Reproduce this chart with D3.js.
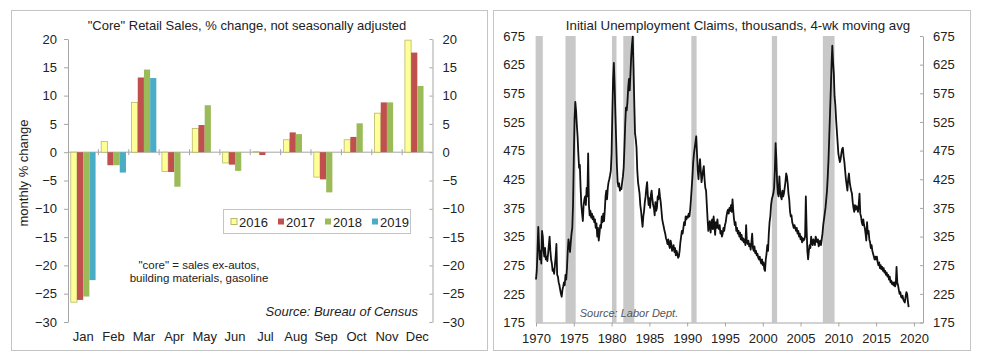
<!DOCTYPE html>
<html>
<head>
<meta charset="utf-8">
<script src="https://cdn.jsdelivr.net/npm/d3@7"></script>
<style>
    body { margin: 0; background: #fff; }
    svg { display: block; font-family: "Liberation Sans", Arial, sans-serif; }
    .axis path, .axis line { stroke: #a6a6a6; }
    .axis text { fill: #222; font-size: 13px; }
</style>
</head>
<body>
<script>

// left chart: "core" retail sales, % change by month
var months = ["Jan", "Feb", "Mar", "Apr", "May", "Jun", "Jul", "Aug", "Sep", "Oct", "Nov", "Dec"];
var years = ["2016", "2017", "2018", "2019"];
var sales2016 = [-26.5, 1.9, 8.8, -3.4, 4.2, -1.9, 0.1, 2.2, -4.4, 2.2, 6.9, 19.8];
var sales2017 = [-26.1, -2.3, 13.2, -3.5, 4.8, -2.2, -0.5, 3.5, -4.8, 2.7, 8.8, 17.6];
var sales2018 = [-25.5, -2.3, 14.6, -6.1, 8.3, -3.3, 0, 3.2, -7.1, 5.1, 8.8, 11.7];
var sales2019 = [-22.6, -3.6, 13.1];
var salesTicks = [20, 15, 10, 5, 0, -5, -10, -15, -20, -25, -30];
var yearColors = ["#ffff99", "#c0504d", "#9bbb59", "#4bacc6"];

// right chart: initial claims, 4-wk moving avg (thousands)
var claimDates = [1970.0, 1970.1, 1970.2, 1970.3, 1970.4, 1970.5, 1970.6, 1970.7, 1970.8, 1970.9,
    1971.0, 1971.1, 1971.2, 1971.3, 1971.4, 1971.5, 1971.6, 1971.7, 1971.8, 1971.9,
    1972.0, 1972.1, 1972.2, 1972.3, 1972.4, 1972.5, 1972.6, 1972.7, 1972.8, 1972.9,
    1973.0, 1973.1, 1973.2, 1973.3, 1973.4, 1973.5, 1973.6, 1973.7, 1973.8, 1973.9,
    1974.0, 1974.1, 1974.2, 1974.3, 1974.4, 1974.5, 1974.6, 1974.7, 1974.8, 1974.9,
    1975.0, 1975.1, 1975.2, 1975.3, 1975.4, 1975.5, 1975.6, 1975.7, 1975.8, 1975.9,
    1976.0, 1976.1, 1976.2, 1976.3, 1976.4, 1976.5, 1976.6, 1976.7, 1976.8, 1976.9,
    1977.0, 1977.1, 1977.2, 1977.3, 1977.4, 1977.5, 1977.6, 1977.7, 1977.8, 1977.9,
    1978.0, 1978.1, 1978.2, 1978.3, 1978.4, 1978.5, 1978.6, 1978.7, 1978.8, 1978.9,
    1979.0, 1979.1, 1979.2, 1979.3, 1979.4, 1979.5, 1979.6, 1979.7, 1979.8, 1979.9,
    1980.0, 1980.1, 1980.2, 1980.3, 1980.4, 1980.5, 1980.6, 1980.7, 1980.8, 1980.9,
    1981.0, 1981.1, 1981.2, 1981.3, 1981.4, 1981.5, 1981.6, 1981.7, 1981.8, 1981.9,
    1982.0, 1982.1, 1982.2, 1982.3, 1982.4, 1982.5, 1982.6, 1982.7, 1982.8, 1982.9,
    1983.0, 1983.1, 1983.2, 1983.3, 1983.4, 1983.5, 1983.6, 1983.7, 1983.8, 1983.9,
    1984.0, 1984.1, 1984.2, 1984.3, 1984.4, 1984.5, 1984.6, 1984.7, 1984.8, 1984.9,
    1985.0, 1985.1, 1985.2, 1985.3, 1985.4, 1985.5, 1985.6, 1985.7, 1985.8, 1985.9,
    1986.0, 1986.1, 1986.2, 1986.3, 1986.4, 1986.5, 1986.6, 1986.7, 1986.8, 1986.9,
    1987.0, 1987.1, 1987.2, 1987.3, 1987.4, 1987.5, 1987.6, 1987.7, 1987.8, 1987.9,
    1988.0, 1988.1, 1988.2, 1988.3, 1988.4, 1988.5, 1988.6, 1988.7, 1988.8, 1988.9,
    1989.0, 1989.1, 1989.2, 1989.3, 1989.4, 1989.5, 1989.6, 1989.7, 1989.8, 1989.9,
    1990.0, 1990.1, 1990.2, 1990.3, 1990.4, 1990.5, 1990.6, 1990.7, 1990.8, 1990.9,
    1991.0, 1991.1, 1991.2, 1991.3, 1991.4, 1991.5, 1991.6, 1991.7, 1991.8, 1991.9,
    1992.0, 1992.1, 1992.2, 1992.3, 1992.4, 1992.5, 1992.6, 1992.7, 1992.8, 1992.9,
    1993.0, 1993.1, 1993.2, 1993.3, 1993.4, 1993.5, 1993.6, 1993.7, 1993.8, 1993.9,
    1994.0, 1994.1, 1994.2, 1994.3, 1994.4, 1994.5, 1994.6, 1994.7, 1994.8, 1994.9,
    1995.0, 1995.1, 1995.2, 1995.3, 1995.4, 1995.5, 1995.6, 1995.7, 1995.8, 1995.9,
    1996.0, 1996.1, 1996.2, 1996.3, 1996.4, 1996.5, 1996.6, 1996.7, 1996.8, 1996.9,
    1997.0, 1997.1, 1997.2, 1997.3, 1997.4, 1997.5, 1997.6, 1997.7, 1997.8, 1997.9,
    1998.0, 1998.1, 1998.2, 1998.3, 1998.4, 1998.5, 1998.6, 1998.7, 1998.8, 1998.9,
    1999.0, 1999.1, 1999.2, 1999.3, 1999.4, 1999.5, 1999.6, 1999.7, 1999.8, 1999.9,
    2000.0, 2000.1, 2000.2, 2000.3, 2000.4, 2000.5, 2000.6, 2000.7, 2000.8, 2000.9,
    2001.0, 2001.1, 2001.2, 2001.3, 2001.4, 2001.5, 2001.6, 2001.7, 2001.8, 2001.9,
    2002.0, 2002.1, 2002.2, 2002.3, 2002.4, 2002.5, 2002.6, 2002.7, 2002.8, 2002.9,
    2003.0, 2003.1, 2003.2, 2003.3, 2003.4, 2003.5, 2003.6, 2003.7, 2003.8, 2003.9,
    2004.0, 2004.1, 2004.2, 2004.3, 2004.4, 2004.5, 2004.6, 2004.7, 2004.8, 2004.9,
    2005.0, 2005.1, 2005.2, 2005.3, 2005.4, 2005.5, 2005.6, 2005.7, 2005.8, 2005.9,
    2006.0, 2006.1, 2006.2, 2006.3, 2006.4, 2006.5, 2006.6, 2006.7, 2006.8, 2006.9,
    2007.0, 2007.1, 2007.2, 2007.3, 2007.4, 2007.5, 2007.6, 2007.7, 2007.8, 2007.9,
    2008.0, 2008.1, 2008.2, 2008.3, 2008.4, 2008.5, 2008.6, 2008.7, 2008.8, 2008.9,
    2009.0, 2009.1, 2009.2, 2009.3, 2009.4, 2009.5, 2009.6, 2009.7, 2009.8, 2009.9,
    2010.0, 2010.1, 2010.2, 2010.3, 2010.4, 2010.5, 2010.6, 2010.7, 2010.8, 2010.9,
    2011.0, 2011.1, 2011.2, 2011.3, 2011.4, 2011.5, 2011.6, 2011.7, 2011.8, 2011.9,
    2012.0, 2012.1, 2012.2, 2012.3, 2012.4, 2012.5, 2012.6, 2012.7, 2012.8, 2012.9,
    2013.0, 2013.1, 2013.2, 2013.3, 2013.4, 2013.5, 2013.6, 2013.7, 2013.8, 2013.9,
    2014.0, 2014.1, 2014.2, 2014.3, 2014.4, 2014.5, 2014.6, 2014.7, 2014.8, 2014.9,
    2015.0, 2015.1, 2015.2, 2015.3, 2015.4, 2015.5, 2015.6, 2015.7, 2015.8, 2015.9,
    2016.0, 2016.1, 2016.2, 2016.3, 2016.4, 2016.5, 2016.6, 2016.7, 2016.8, 2016.9,
    2017.0, 2017.1, 2017.2, 2017.3, 2017.4, 2017.5, 2017.6, 2017.7, 2017.8, 2017.9,
    2018.0, 2018.1, 2018.2, 2018.3, 2018.4, 2018.5, 2018.6, 2018.7, 2018.8, 2018.9,
    2019.0, 2019.1, 2019.2, 2019.3];
var claimValues = [250, 265, 300, 342, 310, 285, 300, 278, 335, 325,
    300, 290, 305, 285, 290, 282, 295, 310, 325, 300,
    285, 278, 265, 268, 260, 275, 290, 312, 258, 255,
    245, 240, 232, 225, 220, 232, 238, 245, 240, 258,
    250, 270, 300, 320, 310, 298, 315, 330, 340, 380,
    460, 530, 560, 545, 520, 500, 470, 445, 450, 410,
    380, 365, 352, 380, 390, 395, 380, 410, 395, 470,
    380, 362, 370, 358, 365, 355, 360, 350, 355, 340,
    348, 325, 340, 318, 330, 345, 340, 360, 350, 365,
    352, 370, 395, 405, 390, 410, 420, 425, 432, 440,
    470, 540, 600, 628, 590, 540, 495, 450, 420, 412,
    418, 405, 410, 408, 420, 430, 445, 480, 520, 550,
    545, 560, 585, 600, 580, 610, 640, 660, 674, 620,
    560, 505, 495, 480, 440, 420, 410, 400, 380, 370,
    355, 342, 360, 370, 385, 395, 410, 420, 395, 380,
    392, 375, 398, 405, 390, 380, 375, 362, 385, 370,
    375, 395, 390, 408, 395, 385, 370, 355, 348, 342,
    335, 330, 322, 318, 312, 320, 310, 305, 318, 312,
    300, 305, 310, 298, 305, 292, 300, 295, 288, 290,
    300, 315, 325, 335, 330, 340, 350, 345, 360, 355,
    360, 358, 365, 360, 372, 390, 410, 430, 455, 470,
    480, 490, 500, 470, 440, 425, 445, 460, 440, 420,
    430, 440, 448, 425, 410, 405, 380, 355, 335, 345,
    352, 332, 345, 355, 338, 360, 345, 328, 350, 340,
    355, 340, 338, 345, 330, 335, 325, 330, 340, 335,
    345, 350, 360, 368, 372, 365, 375, 370, 380, 368,
    390, 370, 355, 345, 350, 335, 340, 330, 335, 325,
    332, 320, 328, 318, 322, 315, 320, 310, 345, 315,
    312, 318, 308, 312, 302, 315, 330, 305, 300, 308,
    296, 300, 292, 295, 288, 285, 290, 282, 278, 285,
    275, 280, 268, 265, 285, 295, 310, 300, 330, 350,
    360, 380, 390, 395, 400, 410, 440, 488, 460, 420,
    400, 395, 430, 405, 395, 390, 405, 395, 400, 410,
    420, 435, 430, 418, 400, 390, 370, 360, 362, 350,
    345, 340, 345, 340, 335, 340, 330, 335, 325, 330,
    320, 325, 315, 322, 318, 320, 325, 395, 340, 300,
    285, 300, 310, 305, 325, 315, 310, 320, 315, 310,
    325, 320, 315, 320, 308, 312, 318, 310, 320, 330,
    345, 355, 365, 375, 390, 405, 430, 460, 500, 540,
    580, 625, 658, 630, 610, 570, 555, 530, 510, 490,
    470, 462, 455, 460, 470, 478, 480, 465, 455, 440,
    425, 415, 405, 425, 435, 420, 412, 405, 400, 385,
    375, 368, 380, 372, 378, 375, 368, 382, 400, 365,
    360, 350, 345, 355, 345, 340, 330, 318, 350, 330,
    335, 320, 315, 305, 310, 300, 295, 290, 285, 290,
    285, 290, 280, 275, 280, 270, 275, 268, 272, 265,
    270, 262, 265, 258, 262, 255, 258, 250, 255, 245,
    248, 242, 245, 240, 245, 238, 242, 272, 245, 240,
    232, 225, 228, 220, 218, 222, 215, 212, 210, 220,
    228, 225, 212, 202];
var recessionStart = [1969.95, 1973.9, 1980.05, 1981.55, 1990.55, 2001.2, 2007.95];
var recessionEnd = [1970.9, 1975.25, 1980.65, 1983.0, 1991.25, 2001.9, 2009.5];
var claimTicks = [675, 625, 575, 525, 475, 425, 375, 325, 275, 225, 175];
var claimYearTicks = [1970, 1975, 1980, 1985, 1990, 1995, 2000, 2005, 2010, 2015, 2020];

var svg = d3.select("body").append("svg")
    .attr("width", 983)
    .attr("height", 359);

// panel frames
svg.append("rect").attr("x", 11.5).attr("y", 10.5).attr("width", 476).attr("height", 340)
    .attr("fill", "#fff").attr("stroke", "#c4c4c4");
svg.append("rect").attr("x", 493.5).attr("y", 10.5).attr("width", 477).attr("height", 340)
    .attr("fill", "#fff").attr("stroke", "#c4c4c4");

// ---------- left panel ----------
var left = {x0: 68, x1: 432.5, y0: 39, y1: 322};
var salesSeries = [sales2016, sales2017, sales2018, sales2019];

var xMonth = d3.scaleBand().domain(months).range([left.x0, left.x1]);
var xYear = d3.scaleBand().domain(years).range([0, xMonth.bandwidth()]).paddingOuter(0.45);
var ySales = d3.scaleLinear().domain([-30, 20]).range([left.y1, left.y0]);

var lg = svg.append("g");

lg.append("g")
    .attr("class", "axis")
    .attr("transform", "translate(" + left.x0 + ",0)")
    .call(d3.axisLeft(ySales).tickValues(salesTicks).tickSize(4).tickPadding(7).tickSizeOuter(0));

lg.append("g")
    .attr("class", "axis")
    .attr("transform", "translate(" + left.x1 + ",0)")
    .call(d3.axisRight(ySales).tickValues(salesTicks).tickSize(-3).tickPadding(10).tickSizeOuter(0));

// zero line with category ticks
lg.append("line")
    .attr("x1", left.x0).attr("x2", left.x1)
    .attr("y1", ySales(0)).attr("y2", ySales(0))
    .attr("stroke", "#a6a6a6");
lg.selectAll(".ctick")
    .data(months.slice(1))
    .enter().append("line")
    .attr("x1", function(d) { return xMonth(d); })
    .attr("x2", function(d) { return xMonth(d); })
    .attr("y1", ySales(0) - 3).attr("y2", ySales(0) + 3)
    .attr("stroke", "#a6a6a6");

// bars
salesSeries.forEach(function(series, i) {
    lg.append("g").selectAll("rect")
        .data(series)
        .enter().append("rect")
        .attr("x", function(d, m) { return xMonth(months[m]) + xYear(years[i]); })
        .attr("y", function(d) { return ySales(Math.max(0, d)); })
        .attr("width", xYear.bandwidth())
        .attr("height", function(d) { return Math.abs(ySales(d) - ySales(0)); })
        .attr("fill", yearColors[i])
        .attr("stroke", i === 0 ? "#b8b86a" : "none")
        .attr("stroke-width", 0.8);
});

// month labels
lg.selectAll(".mlabel")
    .data(months)
    .enter().append("text")
    .attr("x", function(d) { return xMonth(d) + xMonth.bandwidth() / 2; })
    .attr("y", 341)
    .attr("text-anchor", "middle")
    .attr("font-size", 13)
    .attr("fill", "#222")
    .text(function(d) { return d; });

lg.append("text")
    .attr("x", 247).attr("y", 30)
    .attr("text-anchor", "middle")
    .attr("font-size", 13)
    .attr("fill", "#222")
    .text("\"Core\" Retail Sales, % change, not seasonally adjusted");

lg.append("text")
    .attr("transform", "translate(28,173) rotate(-90)")
    .attr("text-anchor", "middle")
    .attr("font-size", 13)
    .attr("fill", "#222")
    .text("monthly % change");

// legend
var legend = lg.append("g");
legend.append("rect")
    .attr("x", 223.5).attr("y", 209.5).attr("width", 187).attr("height", 24)
    .attr("fill", "#fff").attr("stroke", "#c4c4c4");
var item = legend.selectAll(".item")
    .data(years)
    .enter().append("g")
    .attr("transform", function(d, i) { return "translate(" + (231 + i * 47) + ",222)"; });
item.append("rect")
    .attr("x", 0).attr("y", -3.5).attr("width", 6).attr("height", 6)
    .attr("fill", function(d, i) { return yearColors[i]; })
    .attr("stroke", function(d, i) { return i === 0 ? "#b8b86a" : "none"; });
item.append("text")
    .attr("x", 8).attr("y", 5)
    .attr("font-size", 13)
    .attr("fill", "#222")
    .text(function(d) { return d; });

lg.append("text")
    .attr("x", 199).attr("y", 269)
    .attr("text-anchor", "middle")
    .attr("font-size", 11.5)
    .attr("fill", "#222")
    .text("\"core\" = sales ex-autos,");
lg.append("text")
    .attr("x", 199).attr("y", 282)
    .attr("text-anchor", "middle")
    .attr("font-size", 11.5)
    .attr("fill", "#222")
    .text("building materials, gasoline");

lg.append("text")
    .attr("x", 418).attr("y", 316)
    .attr("text-anchor", "end")
    .attr("font-size", 13)
    .attr("font-style", "italic")
    .attr("fill", "#222")
    .text("Source: Bureau of Census");

// ---------- right panel ----------
var right = {x0: 536, x1: 923, y0: 36, y1: 322.5};

var xDate = d3.scaleLinear().domain([1970, 2021.2]).range([right.x0, right.x1]);
var yClaims = d3.scaleLinear().domain([175, 675]).range([right.y1, right.y0]);

var rg = svg.append("g");

// recession shading
rg.selectAll(".recession")
    .data(recessionStart)
    .enter().append("rect")
    .attr("x", function(d) { return xDate(d); })
    .attr("y", right.y0)
    .attr("width", function(d, i) { return xDate(recessionEnd[i]) - xDate(d); })
    .attr("height", right.y1 - right.y0)
    .attr("fill", "#c8c8c8");

rg.append("g")
    .attr("class", "axis")
    .attr("transform", "translate(" + right.x0 + ",0)")
    .call(d3.axisLeft(yClaims).tickValues(claimTicks).tickSize(0).tickPadding(11).tickSizeOuter(0))
    .select(".domain").remove();

rg.append("g")
    .attr("class", "axis")
    .attr("transform", "translate(" + right.x1 + ",0)")
    .call(d3.axisRight(yClaims).tickValues(claimTicks).tickSize(-3).tickPadding(10).tickSizeOuter(0));

rg.append("g")
    .attr("class", "axis")
    .attr("transform", "translate(0," + right.y1 + ")")
    .call(d3.axisBottom(xDate).tickValues(claimYearTicks).tickFormat(d3.format("d"))
        .tickSize(4).tickPadding(7).tickSizeOuter(0));

var line = d3.line()
    .x(function(d, i) { return xDate(claimDates[i]); })
    .y(function(d) { return yClaims(d); });

rg.append("path")
    .datum(claimValues)
    .attr("d", line)
    .attr("fill", "none")
    .attr("stroke", "#111")
    .attr("stroke-width", 1.8)
    .attr("stroke-linejoin", "round");

rg.append("text")
    .attr("x", 738).attr("y", 30)
    .attr("text-anchor", "middle")
    .attr("font-size", 13.3)
    .attr("fill", "#222")
    .text("Initial Unemployment Claims, thousands, 4-wk moving avg");

rg.append("text")
    .attr("x", 629).attr("y", 317)
    .attr("text-anchor", "middle")
    .attr("font-size", 11)
    .attr("font-style", "italic")
    .attr("fill", "#555")
    .text("Source: Labor Dept.");

</script>
</body>
</html>
